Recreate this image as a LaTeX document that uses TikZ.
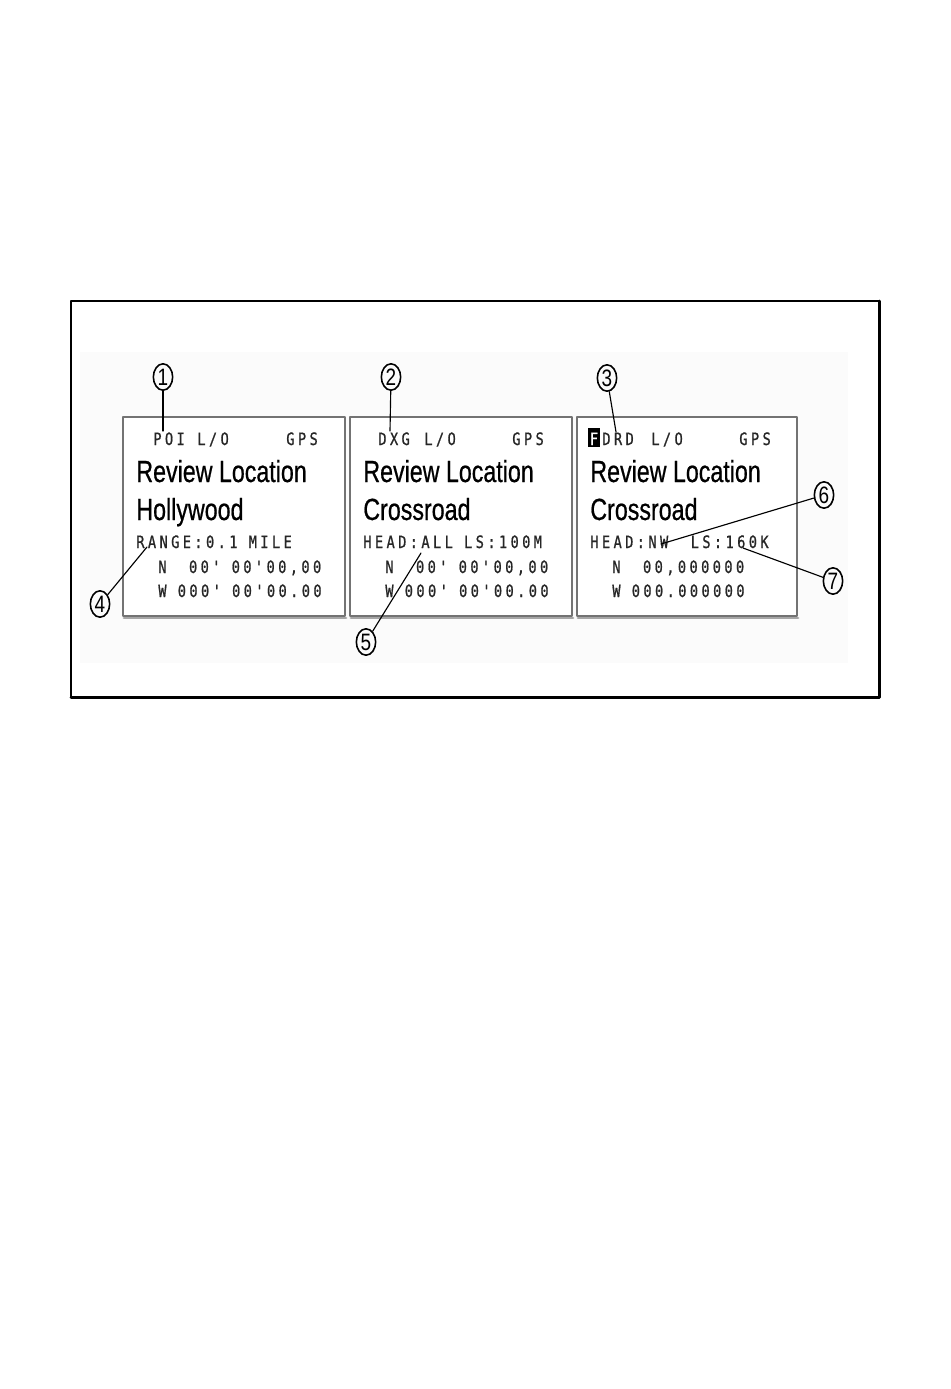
\documentclass[tikz,border=0pt]{standalone}
\usepackage{fontspec}
\usetikzlibrary{shapes.geometric}
\newfontfamily\lcdbig[FakeStretch=0.76,FakeBold=0.6]{Liberation Sans}
\newfontfamily\lcdsmall[FakeStretch=0.8,LetterSpace=20,FakeBold=0.9]{DejaVu Sans Mono}
\newfontfamily\numfont[FakeStretch=0.8]{Liberation Sans}
\newcommand\lcdsmallfont{\lcdsmall\fontsize{9.7}{10}\selectfont\spaceskip 6.4pt\relax}
\begin{document}
\begin{tikzpicture}[x=0.02cm, y=-0.02cm, line join=round, line cap=round,
		bigtxt/.style={anchor=base west, inner sep=0pt, font=\lcdbig\fontsize{17.4}{18}\selectfont},
		smalltxt/.style={anchor=base west, inner sep=0pt, font=\lcdsmallfont, black!85},
		callout/.style={draw, ellipse, line width=0.9pt, inner sep=0pt, minimum width=11pt, minimum height=15pt, font=\numfont\fontsize{13.5}{13.5}\selectfont},
		screen/.style={draw=black!55, line width=0.9pt, fill=white},
		leader/.style={line width=0.65pt}]
		\useasboundingbox (0,0) rectangle (950,1389);
		% outer frame
		\fill[white] (0,0) rectangle (950,1389);
		\fill[black!1.5] (80,352) rectangle (848,663);
		\draw[line width=1.1pt] (879,301) -- (71,301) -- (71,697);
		\draw[line width=1.7pt] (71,697) -- (879,697) -- (879,301);
		% three screens
		\draw[black!35, line width=1.6pt] (124,618) -- (346,618);
		\draw[black!35, line width=1.6pt] (351,618) -- (573,618);
		\draw[black!35, line width=1.6pt] (578,618) -- (798,618);
		\draw[screen] (123,417) rectangle (345,616);
		\draw[screen] (350,417) rectangle (572,616);
		\draw[screen] (577,417) rectangle (797,616);
		% screen 1
		\node[smalltxt] (poi) at (153,445) {POI};
		\node[smalltxt] (lo1) at (197,445) {L/O};
		\node[smalltxt] (gps1) at (286,445) {GPS};
		\node[bigtxt] (rev1) at (136,482) {Review Location};
		\node[bigtxt] (name1) at (136,520) {Hollywood};
		\node[smalltxt] (range) at (136,548) {RANGE:0.1 MILE};
		\node[smalltxt] (lat1) at (158,573) {N~~00' 00'00,00};
		\node[smalltxt] (lon1) at (158,597) {W 000' 00'00.00};
		% screen 2
		\node[smalltxt] (dxg) at (378,445) {DXG};
		\node[smalltxt] (lo2) at (424,445) {L/O};
		\node[smalltxt] (gps2) at (512,445) {GPS};
		\node[bigtxt] (rev2) at (363,482) {Review Location};
		\node[bigtxt] (name2) at (363,520) {Crossroad};
		\node[smalltxt] (head2) at (363,548) {HEAD:ALL LS:100M};
		\node[smalltxt] (lat2) at (385,573) {N~~00' 00'00,00};
		\node[smalltxt] (lon2) at (385,597) {W 000' 00'00.00};
		% screen 3
		\fill (588,428) rectangle (600,447);
		\node[smalltxt, white, anchor=base] (fkey) at (594,445) {F};
		\node[smalltxt] (drd) at (602,445) {DRD};
		\node[smalltxt] (lo3) at (651,445) {L/O};
		\node[smalltxt] (gps3) at (739,445) {GPS};
		\node[bigtxt] (rev3) at (590,482) {Review Location};
		\node[bigtxt] (name3) at (590,520) {Crossroad};
		\node[smalltxt] (head3) at (590,548) {HEAD:NW~~LS:160K};
		\node[smalltxt] (lat3) at (612,573) {N~~00,000000};
		\node[smalltxt] (lon3) at (612,597) {W 000.000000};
		% callouts
		\node[callout] (c1) at (163,377) {1};
		\node[callout] (c2) at (391,377) {2};
		\node[callout] (c3) at (607,378) {3};
		\node[callout] (c4) at (100,604) {4};
		\node[callout] (c5) at (366,642) {5};
		\node[callout] (c6) at (824,495) {6};
		\node[callout] (c7) at (833,581) {7};
		\coordinate (p1) at (163,431);
		\coordinate (p2) at (390,431);
		\coordinate (p3) at (616,432);
		\coordinate (p4) at (147,547);
		\coordinate (p5) at (421,553);
		\coordinate (p6) at (661,544);
		\coordinate (p7) at (743,548);
		\foreach \i in {1,...,7}
			\draw[leader] (c\i) -- (p\i);
	\end{tikzpicture}
\end{document}
